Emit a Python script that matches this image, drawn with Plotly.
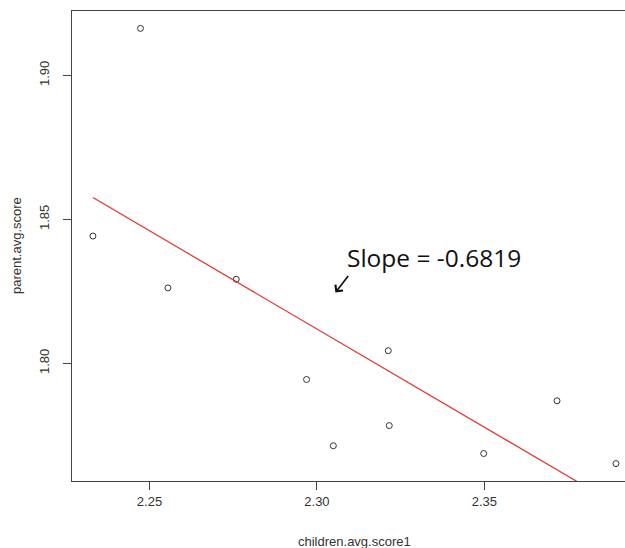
import numpy as np
import plotly.graph_objects as go

# data
children_avg_score1 = [2.2473, 2.2331, 2.2555, 2.2759, 2.2969, 2.3049, 2.3213, 2.3216, 2.3498, 2.3717, 2.3893]
parent_avg_score = [1.9163, 1.8442, 1.8262, 1.8292, 1.7944, 1.7714, 1.8044, 1.7784, 1.7687, 1.7870, 1.7652]
slope = -0.6819
x_ticks = [2.25, 2.30, 2.35]
x_tick_labels = ["2.25", "2.30", "2.35"]
y_ticks = [1.80, 1.85, 1.90]
y_tick_labels = ["1.80", "1.85", "1.90"]
x_title = "children.avg.score1"
y_title = "parent.avg.score"
slope_text = "Slope = -0.6819"

x = np.array(children_avg_score1)
y = np.array(parent_avg_score)
intercept = y.mean() - slope * x.mean()
line_x = np.array([x.min(), x.max()])
line_y = intercept + slope * line_x

# R-style 4% padded ranges (right side cut by the picture edge)
xspan = x.max() - x.min()
yspan = y.max() - y.min()
x_range = [x.min() - 0.04 * xspan, 2.392]
y_range = [y.min() - 0.04 * yspan, y.max() + 0.04 * yspan]

font_axis = "Liberation Sans, Arial, sans-serif"
axis_col = "#444444"
txt_col = "#333333"

fig = go.Figure()
fig.add_trace(go.Scatter(
    x=x, y=y, mode="markers",
    marker=dict(symbol="circle-open", size=6, color="#333333", line=dict(width=1, color="#333333")),
    showlegend=False, hoverinfo="skip",
))
fig.add_trace(go.Scatter(
    x=line_x, y=line_y, mode="lines",
    line=dict(color="#e8312a", width=1.2),
    showlegend=False, hoverinfo="skip",
))

fig.update_layout(
    width=625, height=548,
    margin=dict(l=72, r=0, t=11, b=67),
    paper_bgcolor="white", plot_bgcolor="white",
    xaxis=dict(
        range=x_range, tickvals=x_ticks, ticktext=x_tick_labels,
        showgrid=False, zeroline=False, showline=True, mirror=True,
        linecolor=axis_col, linewidth=1.2, ticks="outside", ticklen=8,
        tickcolor=axis_col, tickwidth=1.2,
        tickfont=dict(family=font_axis, size=13, color=txt_col),
        ticklabelstandoff=0,
    ),
    yaxis=dict(
        range=y_range, tickvals=y_ticks, ticktext=y_tick_labels,
        showgrid=False, zeroline=False, showline=True, mirror=False,
        linecolor=axis_col, linewidth=1.2, ticks="outside", ticklen=8,
        tickcolor=axis_col, tickwidth=1.2, tickangle=-90,
        tickfont=dict(family=font_axis, size=13, color=txt_col),
        ticklabelstandoff=9,
    ),
    annotations=[
        dict(text=x_title, xref="paper", yref="paper", x=(354 - 72) / 553, y=-(541 - 481) / 470,
             xanchor="center", yanchor="middle", showarrow=False,
             font=dict(family=font_axis, size=13, color=txt_col)),
        dict(text=y_title, xref="paper", yref="paper", x=-(72 - 16) / 553, y=0.5,
             xanchor="center", yanchor="middle", showarrow=False, textangle=-90,
             font=dict(family=font_axis, size=13, color=txt_col)),
        dict(text=slope_text, xref="x", yref="y", x=2.3083, y=1.8368,
             xanchor="left", yanchor="middle", showarrow=False,
             font=dict(family="Open Sans, sans-serif", size=24.5, color="#111111")),
        dict(text="", xref="x", yref="y", x=2.3055, y=1.8246,
             showarrow=True, ax=14, ay=-18, arrowhead=4, arrowsize=1.1,
             arrowwidth=1.7, arrowcolor="#111111", standoff=0),
    ],
)

fig.write_html(
    "out.html",
    config={"displayModeBar": False},
    post_script="document.body.style.margin='0';document.body.style.overflow='hidden';",
)
